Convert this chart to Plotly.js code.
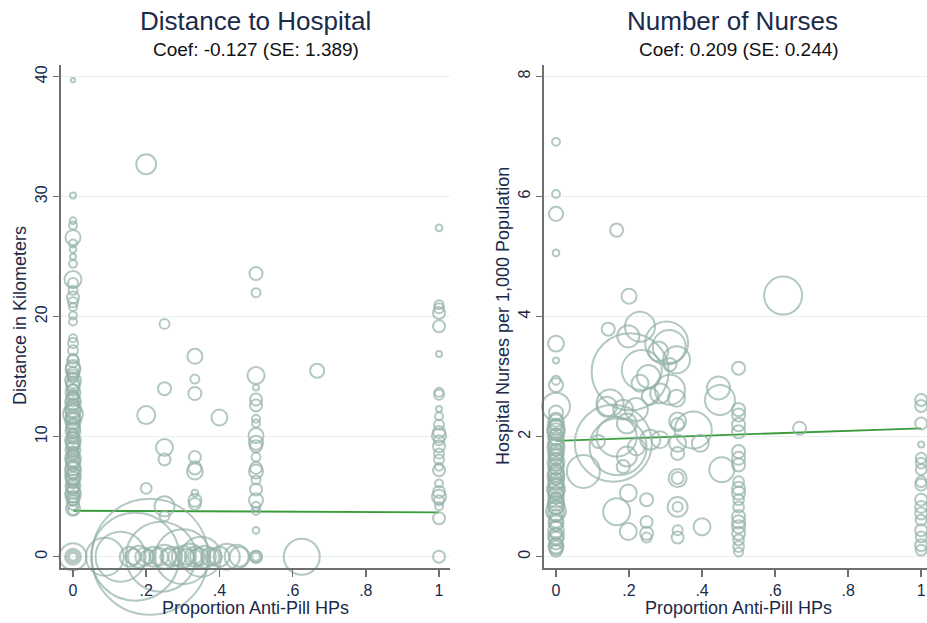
<!DOCTYPE html>
<html>
<head>
<meta charset="utf-8">
<script src="https://cdn.plot.ly/plotly-3.0.1.min.js"></script>
<style>
  html, body { margin: 0; padding: 0; background: #ffffff; }
  #chart { width: 927px; height: 623px; }
</style>
</head>
<body>
<div id="chart"></div>
<script>
// ---- Panel 1: distance to hospital (km) vs proportion of anti-pill HPs ----
const distX = [
  0,0,0,0,0,0,0,0,0,0,0,0,0,0,0,0,0,0,0,0,0,0,0,0,0,0,0,0,0,0,
  0,0,0,0,0,0,0,0,0,0,0,0,0,0,0,0,0,0,0,0,0,0,0,0,0,0,0,0,
  0,0,0,0,0,0,0,0,0,0,0,0,0,0,0,0,0,0,0,0,0,0,0,0,0,0,0,0,
  0.2,0.2,0.2,0.25,0.25,0.25,0.25,0.25,0.25,
  0.333,0.333,0.333,0.333,0.333,0.333,0.333,0.333,0.333,0.4,
  0.5,0.5,0.5,0.5,0.5,0.5,0.5,0.5,0.5,0.5,0.5,0.5,0.5,0.5,0.5,0.5,0.5,0.5,0.5,0.5,0.5,
  0.667,
  1,1,1,1,1,1,1,1,1,1,1,1,1,1,1,1,1,1,1,1,1,1,1,1,1,1,
  0.087,0.13,0.17,0.21,0.24,0.30,0.35,0.155,0.165,0.18,0.195,0.205,0.22,0.235,0.25,
  0.26,0.27,0.285,0.30,0.31,0.32,0.333,0.333,0.345,0.36,0.375,0.385,0.40,0.42,
  0.447,0.455,0.5,0.5,0.625
];
const distKm = [
  39.7,30.1,28.0,27.6,26.6,26.1,25.6,25.0,24.4,23.1,22.8,22.2,21.6,21.2,20.8,20.1,19.6,18.2,17.8,17.2,
  16.5,16.3,15.8,15.3,14.9,14.4,13.9,13.5,13.1,12.7,
  12.3,11.9,11.5,11.1,10.7,10.3,9.9,9.5,9.1,8.8,8.4,8.0,7.6,7.2,6.9,6.5,6.1,5.8,5.4,5.0,4.7,4.4,4.0,3.9,
  0,0,0,0,
  15.6,15.1,14.7,14.2,13.7,13.3,12.9,12.5,12.1,11.7,11.3,10.9,10.5,10.1,9.7,9.3,
  8.9,8.6,8.2,7.8,7.4,7.0,6.7,6.3,5.9,5.6,5.2,4.8,
  32.7,11.8,5.7,19.4,14.0,9.1,8.1,4.2,3.4,
  16.7,14.8,13.6,8.3,7.4,7.1,5.3,4.7,4.4,11.6,
  23.6,22.0,15.1,14.1,13.1,12.6,11.5,11.1,10.1,9.5,9.2,8.3,7.4,7.1,6.4,5.6,4.7,4.2,3.8,2.2,0,
  15.5,
  27.4,21.0,20.7,20.3,19.2,16.9,13.7,13.5,12.3,11.7,11.0,10.4,10.1,9.7,9.2,8.6,8.1,7.5,7.2,6.1,5.4,5.0,4.7,
  4.2,3.2,0,
  0,0,0,0,0,0,0,0,0,0,0,0,0,0,0,
  0,0,0,0,0,0,0,0,0,0,0,0,0,0,
  0,0,0,0,0
];
const distWeight = [
  2,4,5,7,25,7,5,4,7,32,11,9,16,11,7,7,7,7,11,11,
  11,16,22,16,11,22,16,11,22,16,
  28,44,22,16,22,11,16,22,16,11,16,22,16,28,16,22,11,16,22,16,11,16,22,11,
  28,7,81,16,
  25,16,28,19,25,16,28,19,25,22,28,19,25,16,28,19,
  25,16,28,22,25,16,28,19,25,16,28,19,
  44,36,13,11,19,32,16,44,11,
  25,9,19,16,19,28,5,19,16,28,
  19,9,32,4,16,16,7,7,25,22,16,9,16,22,9,16,22,9,7,5,16,
  22,
  5,9,11,16,16,4,9,11,4,7,11,16,22,11,16,11,11,7,16,7,16,22,11,7,16,16,
  160,278,860,1500,544,336,178,44,28,54,36,22,44,36,64,
  28,44,36,54,28,75,44,22,36,54,36,28,44,75,
  64,44,16,7,144
];

// ---- Panel 2: hospital nurses per 1,000 population vs proportion of anti-pill HPs ----
const nurseX = [
  0,0,0,0,0,0,0,0,0,0,0,0,0,0,0,0,0,0,0,0,0,0,0,0,0,0,0,0,0,0,0,0,0,0,0,0,0,0,0,
  0,0,0,0,0,0,0,0,0,0,0,0,0,0,0,0,0,0,0,0,0,0,
  0.143,0.23,0.203,0.303,0.31,0.198,0.28,0.33,0.235,0.253,0.312,0.23,0.285,0.33,0.258,0.312,
  0.148,0.139,0.184,0.22,0.194,0.166,0.157,0.17,0.075,0.116,0.194,0.22,0.184,0.258,0.285,
  0.333,0.333,0.333,0.333,0.376,0.395,0.333,0.333,0.333,0.333,0.333,0.333,
  0.454,0.445,0.449,0.4,0.166,0.198,0.248,0.198,0.248,0.248,0.248,
  0.5,0.622,0.2,0.166,0.667,
  0.5,0.5,0.5,0.5,0.5,0.5,0.5,0.5,0.5,0.5,0.5,0.5,0.5,0.5,0.5,0.5,0.5,0.5,0.5,
  1,1,1,1,1,1,1,1,1,1,1,1,1,1,1,1,1
];
const nursesPer1000 = [
  6.91,6.04,5.71,5.06,3.55,3.27,2.94,2.86,2.5,2.4,2.28,2.2,2.12,2.04,1.96,1.86,1.78,1.7,1.62,1.54,
  1.46,1.38,1.3,1.22,1.14,1.06,0.98,0.9,0.82,0.76,0.68,0.6,0.52,0.45,0.38,0.3,0.22,0.15,0.1,
  2.24,2.16,2.08,2.0,1.91,1.82,1.74,1.66,1.58,1.5,1.42,1.34,1.26,1.18,1.1,1.02,0.94,0.86,0.72,0.56,
  0.34,0.18,
  3.79,3.83,3.08,3.56,3.5,3.67,3.42,3.28,3.11,3.0,3.2,2.89,2.72,2.64,2.67,2.78,
  2.56,2.5,2.45,2.45,2.22,2.0,1.89,1.83,1.42,1.92,1.67,1.83,1.5,1.95,1.95,
  2.26,2.2,1.89,1.72,2.11,1.89,1.31,1.31,0.83,0.83,0.44,0.32,
  1.45,2.81,2.61,0.5,0.75,1.06,0.95,0.42,0.58,0.39,0.32,
  3.14,4.35,4.34,5.44,2.14,
  2.45,2.36,2.2,2.08,1.75,1.64,1.53,1.25,1.14,1.06,0.95,0.83,0.67,0.58,0.5,0.39,0.28,0.17,0.08,
  2.61,2.51,2.22,1.87,1.64,1.56,1.45,1.25,1.2,0.95,0.83,0.72,0.61,0.44,0.33,0.19,0.11
];
const nurseWeight = [
  7,7,22,5,28,4,9,22,87,22,22,16,36,16,22,28,16,22,16,22,
  16,28,16,22,36,22,16,28,22,44,16,22,16,28,16,22,16,22,16,
  28,25,32,28,25,32,28,25,32,28,25,32,28,25,32,28,25,32,28,25,
  28,25,
  19,100,659,205,121,54,44,81,178,59,19,32,44,32,32,100,
  81,44,44,59,44,178,659,361,121,19,44,32,19,44,32,
  32,19,32,19,152,32,36,16,44,11,11,16,
  69,59,100,32,81,32,19,32,16,19,11,
  19,160,25,19,19,
  19,19,19,19,19,19,19,13,19,19,13,13,19,19,19,19,13,13,9,
  16,16,16,4,13,13,13,13,16,16,16,16,13,16,13,16,13
];

// Fitted regression lines (intercept and the reported coefficient)
const fitX = [0, 1];
const distFit = { intercept: 3.83, coef: -0.127, se: 1.389 };
const nurseFit = { intercept: 1.93, coef: 0.209, se: 0.244 };

// Tick labels
const xTickVals = [0, 0.2, 0.4, 0.6, 0.8, 1];
const xTickText = ['0', '.2', '.4', '.6', '.8', '1'];
const distTickVals = [0, 10, 20, 30, 40];
const nurseTickVals = [0, 2, 4, 6, 8];

const FONT = 'Liberation Sans, Arial, sans-serif';
const INK = '#1c2a4a';
const SAGE = '#93b1a7';
const FIT_GREEN = '#3a9c3a';
const AXIS_GREY = '#6f6f6f';

const markerStyle = (w) => ({
  symbol: 'circle-open',
  color: SAGE,
  size: w,
  sizemode: 'area',
  sizeref: 2 / 9,
  line: { width: 2, color: SAGE }
});

const fitLine = (fit) => fitX.map(x => fit.intercept + fit.coef * x);

const traces = [
  { x: fitX, y: fitLine(distFit), xaxis: 'x', yaxis: 'y', mode: 'lines',
    line: { color: FIT_GREEN, width: 1.8 }, hoverinfo: 'skip' },
  { x: distX, y: distKm, xaxis: 'x', yaxis: 'y', mode: 'markers',
    marker: markerStyle(distWeight), cliponaxis: false },
  { x: fitX, y: fitLine(nurseFit), xaxis: 'x2', yaxis: 'y2', mode: 'lines',
    line: { color: FIT_GREEN, width: 1.8 }, hoverinfo: 'skip' },
  { x: nurseX, y: nursesPer1000, xaxis: 'x2', yaxis: 'y2', mode: 'markers',
    marker: markerStyle(nurseWeight), cliponaxis: false }
];

const W = 927, H = 623;
const px = (v) => v / W;
const py = (v) => 1 - v / H;

const xCommon = {
  tickvals: xTickVals, ticktext: xTickText,
  ticks: 'outside', ticklen: 7, tickwidth: 1.5, tickcolor: AXIS_GREY,
  showline: true, linecolor: AXIS_GREY, linewidth: 1.6,
  showgrid: false, zeroline: false,
  tickfont: { family: FONT, size: 16, color: INK }
};
const yCommon = {
  ticks: 'outside', ticklen: 6, tickwidth: 1.5, tickcolor: AXIS_GREY,
  showline: true, linecolor: AXIS_GREY, linewidth: 1.6,
  showgrid: true, gridcolor: '#e9f0ef', gridwidth: 1.2, zeroline: false,
  tickangle: -90,
  tickfont: { family: FONT, size: 16, color: INK }
};
const yDomain = [py(568), py(65)];

const ann = (text, x, y, size, color, angle) => ({
  text, x: px(x), y: py(y), xref: 'paper', yref: 'paper',
  xanchor: 'center', yanchor: 'middle', showarrow: false,
  textangle: angle || 0,
  font: { family: FONT, size, color }
});

const layout = {
  width: W, height: H,
  margin: { l: 0, r: 0, t: 0, b: 0 },
  paper_bgcolor: '#ffffff', plot_bgcolor: '#ffffff',
  showlegend: false,
  xaxis: Object.assign({}, xCommon, { domain: [px(61), px(450)], range: [-0.0328, 1.030], anchor: 'y' }),
  yaxis: Object.assign({}, yCommon, { domain: yDomain, range: [-0.94, 40.97], tickvals: distTickVals, anchor: 'x' }),
  xaxis2: Object.assign({}, xCommon, { domain: [px(544), 1], range: [-0.0329, 1.016], anchor: 'y2' }),
  yaxis2: Object.assign({}, yCommon, { domain: yDomain, range: [-0.188, 8.19], tickvals: nurseTickVals, anchor: 'x2' }),
  annotations: [
    ann('Distance to Hospital', 256, 21, 26, INK),
    ann('Coef: ' + distFit.coef.toFixed(3) + ' (SE: ' + distFit.se.toFixed(3) + ')', 256, 50, 19, '#111111'),
    ann('Number of Nurses', 732, 21, 26, INK),
    ann('Coef: ' + nurseFit.coef.toFixed(3) + ' (SE: ' + nurseFit.se.toFixed(3) + ')', 739, 50, 19, '#111111'),
    ann('Proportion Anti-Pill HPs', 256, 608, 18, INK),
    ann('Proportion Anti-Pill HPs', 738, 608, 18, INK),
    ann('Distance in Kilometers', 20, 316, 18, INK, -90),
    ann('Hospital Nurses per 1,000 Population', 503, 316, 18, INK, -90)
  ]
};

Plotly.newPlot('chart', traces, layout, { staticPlot: true, displayModeBar: false });
</script>
</body>
</html>
